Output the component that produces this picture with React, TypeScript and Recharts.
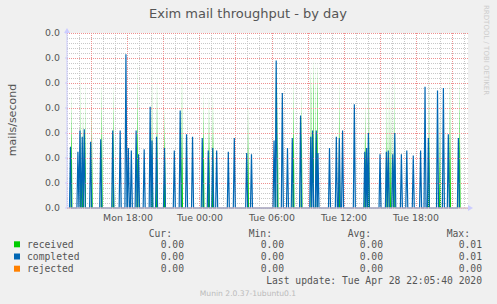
import { ComposedChart, Line, Area, XAxis, YAxis, CartesianGrid, ReferenceLine } from "recharts";

// time axis in hours since Mon 00:00 (Tue 00:00 = 24)
const startHour = 12.92;
const endHour = 46.33;
const xTickHours = [18, 24, 30, 36, 42];
const majorGridHours = [15, 18, 21, 24, 27, 30, 33, 36, 39, 42, 45];
const minorGridHours = [13, 14, 16, 17, 19, 20, 22, 23, 25, 26, 28, 29, 31, 32, 34, 35, 37, 38, 40, 41, 43, 44, 46];
const yTicks = [0, 0.002, 0.004, 0.006, 0.008, 0.01, 0.012, 0.014];
const yMinorTicks = Array.from({ length: 36 }, (_, i) => i * 0.0004);

// mails/second
const completedHours = [
  13.21, 13.83, 14.0, 14.19, 14.36, 14.89, 15.73, 16.73, 17.35, 17.83, 18.03, 18.28, 18.68, 18.88, 19.35, 19.85,
  20.0, 20.38, 21.04, 21.86, 22.35, 22.88, 23.38, 24.19, 24.69, 25.06, 25.39, 26.36, 26.86, 27.89, 28.29, 30.17,
  30.35, 30.86, 31.29, 31.69, 32.38, 33.23, 33.38, 33.69, 33.83, 34.79, 35.36, 35.61, 35.88, 36.86, 37.73, 37.88,
  38.03, 39.0, 39.53, 39.69, 40.06, 40.23, 40.78, 41.23, 41.77, 42.38, 42.75, 43.03, 43.79, 44.28, 44.69, 45.53,
];
const completedValues = [
  0.0049, 0.0045, 0.0062, 0.0057, 0.0063, 0.0053, 0.0055, 0.0062, 0.0062, 0.0123, 0.0048, 0.0046, 0.0062, 0.0043, 0.0047, 0.0081,
  0.0054, 0.0057, 0.0048, 0.0046, 0.0078, 0.0059, 0.0057, 0.0056, 0.0046, 0.0048, 0.0046, 0.0045, 0.0056, 0.0044, 0.0043, 0.0054,
  0.0118, 0.0092, 0.0048, 0.0056, 0.0074, 0.0057, 0.0062, 0.0062, 0.0044, 0.0048, 0.0057, 0.0056, 0.0062, 0.0083, 0.0045, 0.0048,
  0.006, 0.0043, 0.0045, 0.0046, 0.0043, 0.006, 0.0043, 0.0046, 0.0042, 0.0046, 0.0097, 0.0056, 0.0094, 0.0096, 0.0059, 0.0056,
];
const receivedHours = [
  13.29, 14.08, 14.17, 14.25, 14.33, 14.42, 14.98, 15.81, 16.78, 18.79, 19.92, 20.0, 20.08, 20.42, 21.06, 22.5,
  24.29, 24.75, 25.08, 28.0, 30.25, 30.33, 30.46, 31.79, 32.46, 33.21, 33.29, 33.42, 33.5, 33.63, 33.75, 33.83,
  35.61, 37.77, 38.06, 39.54, 39.63, 39.75, 39.88, 40.0, 40.1, 40.21, 43.08, 43.92, 44.0, 44.08, 44.83, 45.63,
];
const receivedValues = [
  0.0094, 0.0114, 0.0075, 0.0117, 0.008, 0.011, 0.0086, 0.0104, 0.0101, 0.0118, 0.0109, 0.007, 0.0114, 0.0109, 0.0082, 0.0115,
  0.0094, 0.0092, 0.0094, 0.0086, 0.0117, 0.006, 0.0105, 0.0108, 0.0096, 0.0112, 0.009, 0.012, 0.0095, 0.0122, 0.009, 0.0117,
  0.0106, 0.0086, 0.0117, 0.0102, 0.008, 0.0114, 0.0085, 0.0107, 0.008, 0.0117, 0.0109, 0.0078, 0.006, 0.0086, 0.0113, 0.0108,
];
const rejectedHours = [startHour, endHour];
const rejectedValues = [0, 0];

const seriesNames = ["received", "completed", "rejected"];
const seriesColors = ["#00cc00", "#0066b3", "#ff8000"];
const curValues = [0, 0, 0];
const minValues = [0, 0, 0];
const avgValues = [0, 0, 0];
const maxValues = [0.01, 0.01, 0];

const SAMPLE = 1 / 12; // one 5 minute sample

function spikes(hours: number[], values: number[]) {
  const pts: { h: number; v: number }[] = [];
  hours.forEach((h, i) => {
    pts.push({ h: h - SAMPLE, v: 0 }, { h, v: values[i] }, { h: h + SAMPLE, v: 0 });
  });
  return pts.sort((a, b) => a.h - b.h);
}

const completedData = spikes(completedHours, completedValues);
const receivedData = spikes(receivedHours, receivedValues);
const rejectedData = rejectedHours.map((h, i) => ({ h, v: rejectedValues[i] }));

const fmtHour = (h: number) => (h < 24 ? "Mon " : "Tue ") + String(h % 24).padStart(2, "0") + ":00";

const sans = "DejaVu Sans, sans-serif";
const mono = "DejaVu Sans Mono, monospace";
const colX = [184, 284, 383, 482];
const headers = ["Cur:", "Min:", "Avg:", "Max:"];
const headerX = [172, 272, 371, 470];

export default function App() {
  const rows = [curValues, minValues, avgValues, maxValues];
  return (
    <div style={{ position: "absolute", left: 0, top: 0, width: 497, height: 304, background: "#f0f0f0" }}>
      <ComposedChart width={497} height={304} margin={{ top: 33, right: 29, bottom: 76, left: 20 }}>
        <defs>
          <linearGradient id="recvFill" x1="0" y1="0" x2="0" y2="1">
            <stop offset="0" stopColor="#00cc00" stopOpacity={0.25} />
            <stop offset="0.5" stopColor="#00cc00" stopOpacity={0.55} />
            <stop offset="0.75" stopColor="#00cc00" stopOpacity={0.95} />
            <stop offset="1" stopColor="#00cc00" stopOpacity={1} />
          </linearGradient>
        </defs>
        {/* hidden axis carrying the minor horizontal grid */}
        <YAxis yAxisId="minor" type="number" hide domain={[0, 0.014]} allowDataOverflow ticks={yMinorTicks} interval={0} />
        <CartesianGrid
          yAxisId="minor"
          vertical={false}
          fill="#ffffff"
          stroke="#c8c8c8"
          strokeDasharray="1 1"
          shapeRendering="crispEdges"
        />
        <XAxis
          dataKey="h"
          type="number"
          domain={[startHour, endHour]}
          allowDataOverflow
          ticks={xTickHours}
          interval={0}
          tickFormatter={fmtHour}
          tickLine={false}
          tickSize={0}
          tickMargin={6}
          height={20}
          axisLine={{ stroke: "#ccccff" }}
          tick={{ fill: "#555", fontSize: 9.4, fontFamily: sans }}
        />
        <YAxis
          type="number"
          domain={[0, 0.014]}
          ticks={yTicks}
          interval={0}
          width={47}
          tickFormatter={(v: number) => v.toFixed(1)}
          tickSize={2}
          tickMargin={5}
          tickLine={{ stroke: "#ccccff" }}
          axisLine={{ stroke: "#ccccff" }}
          tick={{ fill: "#555", fontSize: 9.4, fontFamily: sans }}
        />
        {minorGridHours.map((h) => (
          <ReferenceLine key={"mx" + h} x={h} stroke="#c8c8c8" strokeDasharray="1 1" shapeRendering="crispEdges" />
        ))}
        {majorGridHours.map((h) => (
          <ReferenceLine key={"Mx" + h} x={h} stroke="#ee9090" strokeDasharray="1 1" shapeRendering="crispEdges" />
        ))}
        {yTicks.slice(1).map((v) => (
          <ReferenceLine key={"My" + v} y={v} stroke="#ee9090" strokeDasharray="1 1" shapeRendering="crispEdges" />
        ))}
        <Area
          data={receivedData}
          dataKey="v"
          type="linear"
          stroke="none"
          fill="url(#recvFill)"
          fillOpacity={1}
          isAnimationActive={false}
        />
        <Line
          data={completedData}
          dataKey="v"
          type="linear"
          stroke="#0066b3"
          strokeWidth={1.2}
          dot={false}
          isAnimationActive={false}
        />
        <Line
          data={rejectedData}
          dataKey="v"
          type="linear"
          stroke="#ff8000"
          strokeOpacity={0.6}
          strokeWidth={1}
          dot={false}
          isAnimationActive={false}
        />
      </ComposedChart>
      <svg
        width={497}
        height={304}
        style={{ position: "absolute", left: 0, top: 0, pointerEvents: "none" }}
      >
        <text x={248} y={18.3} textAnchor="middle" fontFamily={sans} fontSize={13} fill="#555">
          Exim mail throughput - by day
        </text>
        <text transform="translate(15.5,120) rotate(-90)" textAnchor="middle" fontFamily={sans} fontSize={11} fill="#555">
          mails/second
        </text>
        <text transform="translate(484,5) rotate(90)" fontFamily={sans} fontSize={7} fill="#ccc">
          RRDTOOL / TOBI OETIKER
        </text>
        <polygon points="64,33 70,33 67,28" fill="#ccccff" />
        <polygon points="468,205 468,211 473,208" fill="#ccccff" />
        {headers.map((t, i) => (
          <text key={t} x={headerX[i]} y={236.5} textAnchor="end" fontFamily={mono} fontSize={9.7} fill="#555">
            {t}
          </text>
        ))}
        {seriesNames.map((name, r) => (
          <g key={name}>
            <rect x={14} y={241.3 + r * 12.2} width={6} height={6} fill={seriesColors[r]} />
            <text x={27} y={247.8 + r * 12.2} fontFamily={mono} fontSize={9.7} fill="#555">
              {name}
            </text>
            {rows.map((vals, c) => (
              <text key={c} x={colX[c]} y={247.8 + r * 12.2} textAnchor="end" fontFamily={mono} fontSize={9.7} fill="#555">
                {vals[r].toFixed(2)}
              </text>
            ))}
          </g>
        ))}
        <text x={482} y={284.4} textAnchor="end" fontFamily={mono} fontSize={9.7} fill="#555">
          Last update: Tue Apr 28 22:05:40 2020
        </text>
        <text x={248} y={295.7} textAnchor="middle" fontFamily={sans} fontSize={7.6} fill="#bbb">
          Munin 2.0.37-1ubuntu0.1
        </text>
      </svg>
    </div>
  );
}
